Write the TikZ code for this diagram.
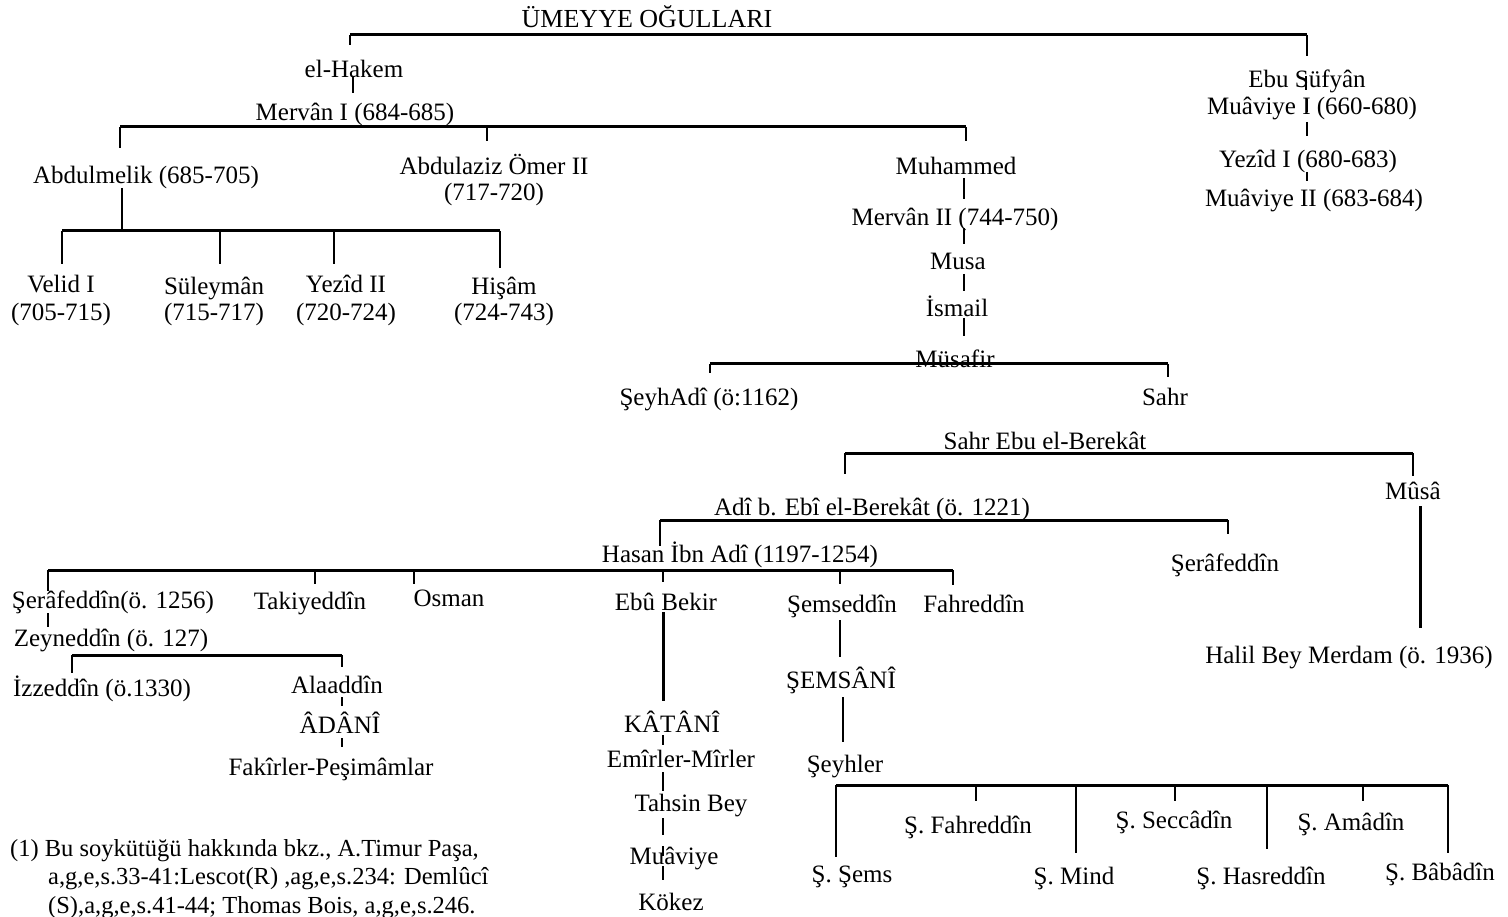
\documentclass[tikz,border=0pt]{standalone}
\usepackage{fontspec}
\setmainfont{Liberation Serif}
\begin{document}
\begin{tikzpicture}[x=1pt,y=-1pt,
  txt/.style={inner sep=0pt, anchor=base, font=\fontsize{25}{28}\selectfont},
  fn/.style={inner sep=0pt, anchor=base west, font=\fontsize{24.5}{28}\selectfont},
  bar/.style={line width=3pt},
  tie/.style={line width=2.2pt},
  thin/.style={line width=1.5pt}]
\useasboundingbox (0,0) rectangle (1508,917);
\fill[white] (0,0) rectangle (1508,917);
% ---------- nodes ----------
\node[txt, font=\fontsize{26}{28}\selectfont] (title) at (647,28) {ÜMEYYE OĞULLARI};
\node[txt] (hakem) at (354,78) {el-Hakem};
\node[txt] (mervan1) at (355,121) {Mervân I (684-685)};
\node[txt] (abdulmelik) at (146,184) {Abdulmelik (685-705)};
\node[txt] (abdulaziz) at (494,175) {Abdulaziz Ömer II};
\node[txt] (abdulazizd) at (494,201) {(717-720)};
\node[txt] (muhammed) at (956,175) {Muhammed};
\node[txt] (velid) at (61,293) {Velid I};
\node[txt] (velidd) at (61,321) {(705-715)};
\node[txt] (suleyman) at (214,295) {Süleymân};
\node[txt] (suleymand) at (214,321) {(715-717)};
\node[txt] (yezid2) at (346,293) {Yezîd II};
\node[txt] (yezid2d) at (346,321) {(720-724)};
\node[txt] (hisam) at (504,295) {Hişâm};
\node[txt] (hisamd) at (504,321) {(724-743)};
\node[txt] (mervan2) at (955,226) {Mervân II (744-750)};
\node[txt] (musa) at (958,270) {Musa};
\node[txt] (ismail) at (957,317) {İsmail};
\node[txt] (musafir) at (955,367) {Müsafir};
\node[txt] (seyhadi) at (709,406) {ŞeyhAdî (ö:1162)};
\node[txt] (sahr) at (1165,405) {Sahr};
\node[txt] (ebusufyan) at (1307,88) {Ebu Süfyân};
\node[txt] (muaviye1) at (1312,115) {Muâviye I (660-680)};
\node[txt] (yezid1) at (1308,168) {Yezîd I (680-683)};
\node[txt] (muaviye2) at (1314,207) {Muâviye II (683-684)};
\node[txt] (sahrebu) at (1045,449) {Sahr Ebu el-Berekât};
\node[txt] (musa2) at (1413,499) {Mûsâ};
\node[txt] (halil) at (1349,663) {Halil Bey Merdam (ö. 1936)};
\node[txt] (adi) at (872,515) {Adî b. Ebî el-Berekât (ö. 1221)};
\node[txt] (serafR) at (1225,571) {Şerâfeddîn};
\node[txt] (hasan) at (740,562) {Hasan İbn Adî (1197-1254)};
\node[txt] (seraf) at (113,608) {Şerâfeddîn(ö. 1256)};
\node[txt] (taki) at (310,609) {Takiyeddîn};
\node[txt] (osman) at (449,606) {Osman};
\node[txt] (ebubekir) at (666,610) {Ebû Bekir};
\node[txt] (semseddin) at (842,612) {Şemseddîn};
\node[txt] (fahreddin) at (974,612) {Fahreddîn};
\node[txt] (zeyneddin) at (111,646) {Zeyneddîn (ö. 127)};
\node[txt] (izzeddin) at (102,696) {İzzeddîn (ö.1330)};
\node[txt] (alaaddin) at (337,693) {Alaaddîn};
\node[txt] (adani) at (340,733) {ÂDÂNÎ};
\node[txt] (fakirler) at (331,775) {Fakîrler-Peşimâmlar};
\node[txt] (katani) at (672,732) {KÂTÂNÎ};
\node[txt] (emirler) at (681,767) {Emîrler-Mîrler};
\node[txt] (tahsin) at (691,811) {Tahsin Bey};
\node[txt] (muaviye3) at (674,864) {Muâviye};
\node[txt] (kokez) at (671,910) {Kökez};
\node[txt] (semsani) at (841,688) {ŞEMSÂNÎ};
\node[txt] (seyhler) at (845,772) {Şeyhler};
\node[txt] (ssems) at (852,882) {Ş. Şems};
\node[txt] (sfahr) at (968,833) {Ş. Fahreddîn};
\node[txt] (smind) at (1074,884) {Ş. Mind};
\node[txt] (ssecc) at (1174,828) {Ş. Seccâdîn};
\node[txt] (shasr) at (1261,884) {Ş. Hasreddîn};
\node[txt] (samad) at (1351,830) {Ş. Amâdîn};
\node[txt] (sbaba) at (1440,880) {Ş. Bâbâdîn};
\node[fn] (fn1) at (10,856) {(1) Bu soykütüğü hakkında bkz., A.Timur Paşa,};
\node[fn] (fn2) at (48,884) {a,g,e,s.33-41:Lescot(R) ,ag,e,s.234: Demlûcî};
\node[fn] (fn3) at (48,913) {(S),a,g,e,s.41-44; Thomas Bois, a,g,e,s.246.};
% ---------- junctions ----------
\coordinate (t0L) at (350,35); \coordinate (t0R) at (1307,35);
\coordinate (t0Ld) at (350,45); \coordinate (t0Rd) at (1307,56);
\coordinate (hk1) at (353,77); \coordinate (hk2) at (353,93);
\coordinate (b1L) at (120,127); \coordinate (b1M) at (487,127); \coordinate (b1R) at (966,127);
\coordinate (b1Ld) at (120,148); \coordinate (b1Md) at (487,141); \coordinate (b1Rd) at (966,141);
\coordinate (am1) at (122,188); \coordinate (am2) at (122,231);
\coordinate (b2L) at (62,231); \coordinate (b2a) at (220,231); \coordinate (b2b) at (334,231); \coordinate (b2R) at (500,231);
\coordinate (b2Ld) at (62,264); \coordinate (b2ad) at (220,264); \coordinate (b2bd) at (334,264); \coordinate (b2Rd) at (500,268);
\coordinate (m1) at (964,178); \coordinate (m2) at (964,199);
\coordinate (m3) at (964,228); \coordinate (m4) at (964,244);
\coordinate (m5) at (964,274); \coordinate (m6) at (964,291);
\coordinate (m7) at (964,318); \coordinate (m8) at (964,336);
\coordinate (b3L) at (710,364); \coordinate (b3R) at (1168,364);
\coordinate (b3Ld) at (710,373); \coordinate (b3Rd) at (1168,377);
\coordinate (e1) at (1306,76); \coordinate (e2) at (1306,90);
\coordinate (e3) at (1307,99); \coordinate (e4) at (1307,112);
\coordinate (e5) at (1307,122); \coordinate (e6) at (1307,136);
\coordinate (e7) at (1307,172); \coordinate (e8) at (1307,181);
\coordinate (b4L) at (845,453); \coordinate (b4R) at (1413,453);
\coordinate (b4Ld) at (845,474); \coordinate (b4Rd) at (1413,476);
\coordinate (ms1) at (1420,506); \coordinate (ms2) at (1420,628);
\coordinate (b5L) at (660,520); \coordinate (b5R) at (1228,520);
\coordinate (b5Ld) at (660,546); \coordinate (b5Rd) at (1228,534);
\coordinate (b6L) at (48,570); \coordinate (b6a) at (315,570); \coordinate (b6b) at (414,570);
\coordinate (b6c) at (663,570); \coordinate (b6d) at (840,570); \coordinate (b6R) at (953,570);
\coordinate (b6Ld) at (48,591); \coordinate (b6ad) at (315,584); \coordinate (b6bd) at (414,584);
\coordinate (b6cd) at (663,582); \coordinate (b6dd) at (840,584); \coordinate (b6Rd) at (953,585);
\coordinate (sz1) at (48,613); \coordinate (sz2) at (48,627);
\coordinate (b7L) at (72,655); \coordinate (b7R) at (342,655);
\coordinate (b7Ld) at (72,673); \coordinate (b7Rd) at (342,667);
\coordinate (al1) at (342,697); \coordinate (al2) at (342,706);
\coordinate (al3) at (342,738); \coordinate (al4) at (342,747);
\coordinate (eb1) at (663,612); \coordinate (eb2) at (663,701);
\coordinate (eb3) at (663,735); \coordinate (eb4) at (663,745);
\coordinate (eb5) at (663,772); \coordinate (eb6) at (663,791);
\coordinate (eb7) at (663,818); \coordinate (eb8) at (663,835);
\coordinate (eb9) at (663,846); \coordinate (eb10) at (663,856);
\coordinate (eb11) at (663,866); \coordinate (eb12) at (663,880);
\coordinate (sm1) at (840,620); \coordinate (sm2) at (840,657);
\coordinate (sm3) at (843,697); \coordinate (sm4) at (843,742);
\coordinate (b8L) at (836,785); \coordinate (b8a) at (976,785); \coordinate (b8b) at (1076,785);
\coordinate (b8c) at (1175,785); \coordinate (b8d) at (1267,785); \coordinate (b8e) at (1363,785);
\coordinate (b8R) at (1448,785);
\coordinate (b8Ld) at (836,857); \coordinate (b8ad) at (976,801); \coordinate (b8bd) at (1076,853);
\coordinate (b8cd) at (1175,801); \coordinate (b8dd) at (1267,849); \coordinate (b8ed) at (1363,801);
\coordinate (b8Rd) at (1448,853);
% ---------- connectors ----------
\draw[bar] (t0L) -- (t0R);
\draw[tie] (t0L) -- (t0Ld);
\draw[tie] (t0R) -- (t0Rd);
\draw[tie] (hk1) -- (hk2);
\draw[bar] (b1L) -- (b1R);
\draw[tie] (b1L) -- (b1Ld);
\draw[tie] (b1M) -- (b1Md);
\draw[tie] (b1R) -- (b1Rd);
\draw[tie] (am1) -- (am2);
\draw[bar] (b2L) -- (b2R);
\draw[tie] (b2L) -- (b2Ld);
\draw[tie] (b2a) -- (b2ad);
\draw[tie] (b2b) -- (b2bd);
\draw[tie] (b2R) -- (b2Rd);
\draw[tie] (m1) -- (m2);
\draw[tie] (m3) -- (m4);
\draw[tie] (m5) -- (m6);
\draw[tie] (m7) -- (m8);
\draw[bar] (b3L) -- (b3R);
\draw[thin] (b3L) -- (b3Ld);
\draw[tie] (b3R) -- (b3Rd);
\draw[thin] (e1) -- (e2);
\draw[thin] (e3) -- (e4);
\draw[tie] (e5) -- (e6);
\draw[thin] (e7) -- (e8);
\draw[bar] (b4L) -- (b4R);
\draw[tie] (b4L) -- (b4Ld);
\draw[tie] (b4R) -- (b4Rd);
\draw[bar] (ms1) -- (ms2);
\draw[bar] (b5L) -- (b5R);
\draw[tie] (b5L) -- (b5Ld);
\draw[tie] (b5R) -- (b5Rd);
\draw[bar] (b6L) -- (b6R);
\draw[tie] (b6L) -- (b6Ld);
\draw[tie] (b6a) -- (b6ad);
\draw[tie] (b6b) -- (b6bd);
\draw[tie] (b6c) -- (b6cd);
\draw[tie] (b6d) -- (b6dd);
\draw[tie] (b6R) -- (b6Rd);
\draw[tie] (sz1) -- (sz2);
\draw[bar] (b7L) -- (b7R);
\draw[tie] (b7L) -- (b7Ld);
\draw[tie] (b7R) -- (b7Rd);
\draw[thin] (al1) -- (al2);
\draw[tie] (al3) -- (al4);
\draw[bar] (eb1) -- (eb2);
\draw[thin] (eb3) -- (eb4);
\draw[tie] (eb5) -- (eb6);
\draw[tie] (eb7) -- (eb8);
\draw[thin] (eb9) -- (eb10);
\draw[tie] (eb11) -- (eb12);
\draw[thin] (sm1) -- (sm2);
\draw[thin] (sm3) -- (sm4);
\draw[bar] (b8L) -- (b8R);
\draw[thin] (b8L) -- (b8Ld);
\draw[thin] (b8a) -- (b8ad);
\draw[thin] (b8b) -- (b8bd);
\draw[thin] (b8c) -- (b8cd);
\draw[thin] (b8d) -- (b8dd);
\draw[thin] (b8e) -- (b8ed);
\draw[tie] (b8R) -- (b8Rd);
\end{tikzpicture}
\end{document}
